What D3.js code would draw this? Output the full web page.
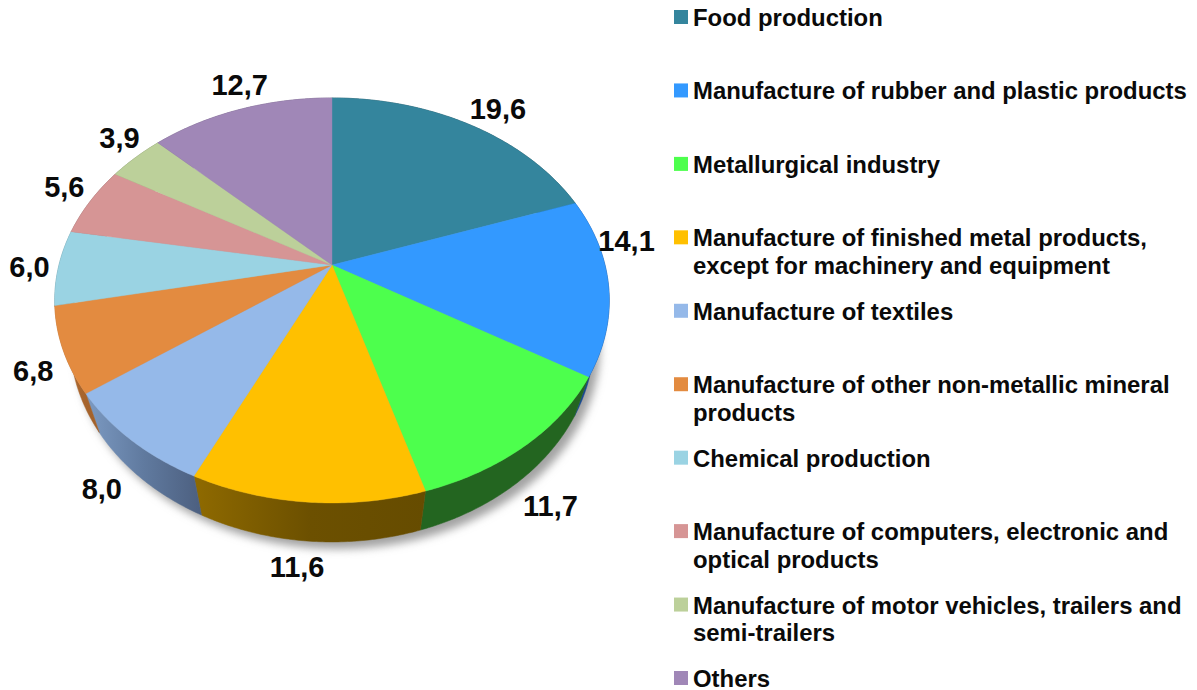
<!DOCTYPE html>
<html>
<head>
<meta charset="utf-8">
<script src="https://cdn.jsdelivr.net/npm/d3@7"></script>
<style>
    html, body { margin: 0; background: #fff; }
    svg { display: block; }
    text { font-family: "Liberation Sans", Arial, sans-serif; font-weight: bold; fill: #0a0a0a; }
</style>
</head>
<body>
<div id="chart"></div>
<script>
const categories = [
    "Food production",
    "Manufacture of rubber and plastic products",
    "Metallurgical industry",
    "Manufacture of finished metal products,\nexcept for machinery and equipment",
    "Manufacture of textiles",
    "Manufacture of other non-metallic mineral\nproducts",
    "Chemical production",
    "Manufacture of computers, electronic and\noptical products",
    "Manufacture of motor vehicles, trailers and\nsemi-trailers",
    "Others"
];
const values = [19.6, 14.1, 11.7, 11.6, 8.0, 6.8, 6.0, 5.6, 3.9, 12.7];
const topColors = ["#34859d", "#3399ff", "#4dff4d", "#ffc000", "#95b9e9", "#e38b40", "#9ad3e3", "#d69595", "#bcd09a", "#a087b7"];
// wall gradient: left end, middle, right end
const wallColors = [
    ["#1d4c5a", "#1d4c5a", "#1d4c5a"], ["#1a4f9c", "#164690", "#123a78"], ["#236520", "#236520", "#236520"],
    ["#8f6a00", "#6c5000", "#664c00"], ["#7c9ac2", "#607a9f", "#4c5f7f"], ["#b56d30", "#aa662d", "#a0602a"],
    ["#5d8a96", "#5d8a96", "#5d8a96"], ["#8c6060", "#8c6060", "#8c6060"], ["#7a8a60", "#7a8a60", "#7a8a60"], ["#67557a", "#67557a", "#67557a"]
];
// where each value label sits relative to the rim at the middle of its slice
const labelNudge = [[28, -16], [18, -45], [25, 60], [-10, 65], [-29, 49], [-30, 21], [-29, 0], [-26, -14], [-16, -20], [-1, -24]];

const width = 1197;
const height = 690;

// the pie is a tilted disc seen in perspective, so the apex is not the ellipse centre
const apex = { x: 332, y: 265 };
const persp = -0.175;
const scaleX = 273;
const scaleY = 196.3;
const depth = 39;
const lowerShrink = 0.945;

function project(angle, r) {
    const px = r * Math.sin(angle);
    const py = -r * Math.cos(angle);
    const w = 1 + persp * py;
    return [apex.x + scaleX * px / w, apex.y + scaleY * py / w];
}

function projectLower(angle) {
    const p = project(angle, 1);
    return [apex.x + (p[0] - apex.x) * lowerShrink, p[1] + depth];
}

function arcAngles(a0, a1) {
    const n = Math.max(2, Math.ceil((a1 - a0) / 0.01));
    return d3.range(n + 1).map(i => a0 + (a1 - a0) * i / n);
}

const svg = d3.select("#chart").append("svg")
    .attr("width", width)
    .attr("height", height);

const defs = svg.append("defs");
defs.append("filter")
    .attr("id", "pieShadow")
    .attr("x", "-10%").attr("y", "-10%").attr("width", "120%").attr("height", "120%")
    .append("feGaussianBlur")
    .attr("stdDeviation", 4);

const pie = d3.pie().sort(null).value(d => d);
const slices = pie(values);
const line = d3.line();

// shadow under the lower rim
svg.append("path")
    .attr("d", line(arcAngles(0, 2 * Math.PI).map(projectLower)) + "Z")
    .attr("transform", "translate(6,7)")
    .attr("fill", "#a3a3a3")
    .attr("filter", "url(#pieShadow)");

// walls
slices.forEach((s, i) => {
    const angles = arcAngles(s.startAngle, s.endAngle);
    const upper = angles.map(a => project(a, 1));
    const lower = angles.map(projectLower).reverse();
    const xs = upper.concat(lower).map(p => p[0]);

    const grad = defs.append("linearGradient")
        .attr("id", "wall" + i)
        .attr("gradientUnits", "userSpaceOnUse")
        .attr("x1", d3.min(xs)).attr("x2", d3.max(xs))
        .attr("y1", 0).attr("y2", 0);
    grad.append("stop").attr("offset", "0%").attr("stop-color", wallColors[i][0]);
    grad.append("stop").attr("offset", "50%").attr("stop-color", wallColors[i][1]);
    grad.append("stop").attr("offset", "100%").attr("stop-color", wallColors[i][2]);

    svg.append("path")
        .attr("d", line(upper.concat(lower)) + "Z")
        .attr("fill", "url(#wall" + i + ")")
        .attr("stroke", "url(#wall" + i + ")")
        .attr("stroke-width", 0.5);
});

// top faces
svg.append("g")
    .selectAll("path")
    .data(slices)
    .join("path")
    .attr("d", s => line([[apex.x, apex.y]].concat(arcAngles(s.startAngle, s.endAngle).map(a => project(a, 1)))) + "Z")
    .attr("fill", (s, i) => topColors[i])
    .attr("stroke", (s, i) => topColors[i])
    .attr("stroke-width", 0.4);

// value labels
svg.append("g")
    .selectAll("text")
    .data(slices)
    .join("text")
    .attr("x", (s, i) => project((s.startAngle + s.endAngle) / 2, 1)[0] + labelNudge[i][0])
    .attr("y", (s, i) => project((s.startAngle + s.endAngle) / 2, 1)[1] + labelNudge[i][1])
    .attr("text-anchor", "middle")
    .attr("dominant-baseline", "central")
    .attr("font-size", 29)
    .text(s => s.value.toFixed(1).replace(".", ","));

// legend
const legendY = d3.scalePoint().domain(categories).range([17.5, 678.5]);
const lineStep = 27.5;

const legend = svg.append("g")
    .selectAll("g")
    .data(categories)
    .join("g")
    .attr("transform", d => "translate(0," + legendY(d) + ")");

legend.append("rect")
    .attr("x", 674)
    .attr("y", -7.5)
    .attr("width", 14)
    .attr("height", 14)
    .attr("fill", (d, i) => topColors[i]);

legend.selectAll("text")
    .data(d => d.split("\n"))
    .join("text")
    .attr("x", 693)
    .attr("y", (d, i) => i * lineStep)
    .attr("dominant-baseline", "central")
    .attr("font-size", 23.9)
    .text(d => d);
</script>
</body>
</html>
